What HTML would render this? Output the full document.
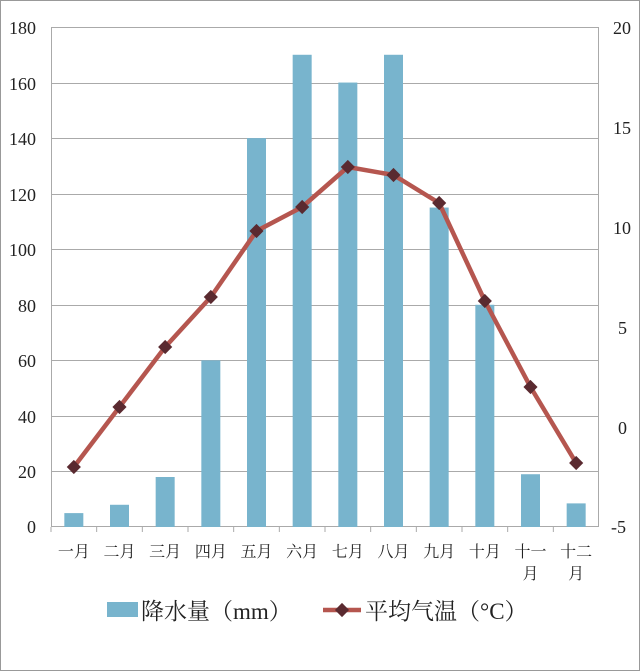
<!DOCTYPE html>
<html><head><meta charset="utf-8"><style>
html,body{margin:0;padding:0;background:#fff}
svg{display:block}
text{font-family:"Liberation Serif","Noto Serif CJK SC",serif;fill:#222}
</style></head><body>
<svg width="640" height="671" viewBox="0 0 640 671">
<rect x="0.5" y="0.5" width="639" height="670" fill="#fff" stroke="#999"/>
<g stroke="#aaa" stroke-width="1">
<line x1="51" y1="27.5" x2="599" y2="27.5"/>
<line x1="51" y1="83.5" x2="599" y2="83.5"/>
<line x1="51" y1="138.5" x2="599" y2="138.5"/>
<line x1="51" y1="194.5" x2="599" y2="194.5"/>
<line x1="51" y1="249.5" x2="599" y2="249.5"/>
<line x1="51" y1="305.5" x2="599" y2="305.5"/>
<line x1="51" y1="360.5" x2="599" y2="360.5"/>
<line x1="51" y1="416.5" x2="599" y2="416.5"/>
<line x1="51" y1="471.5" x2="599" y2="471.5"/>
<line x1="51" y1="526.5" x2="599" y2="526.5"/>
<line x1="51.5" y1="27" x2="51.5" y2="527"/>
<line x1="598.5" y1="27" x2="598.5" y2="527"/>
</g>
<g fill="#78b4cd" id="bars"></g>
<g id="lbl"></g>
<polyline id="ln" fill="none" stroke="#b5564f" stroke-width="4.5" stroke-linejoin="round"/>
<g id="pts" fill="#5a2a30"></g>
<g font-size="18" text-anchor="end">
<text x="36" y="34">180</text><text x="36" y="90">160</text><text x="36" y="145">140</text>
<text x="36" y="201">120</text><text x="36" y="256">100</text><text x="36" y="312">80</text>
<text x="36" y="367">60</text><text x="36" y="423">40</text><text x="36" y="478">20</text><text x="36" y="533">0</text>
</g>
<g font-size="18">
<text x="613" y="34">20</text><text x="613" y="134">15</text><text x="613" y="234">10</text>
<text x="618" y="334">5</text><text x="618" y="434">0</text><text x="611" y="533">-5</text>
</g>
<rect x="107" y="602" width="31" height="15" fill="#78b4cd"/>
<text x="141" y="619" font-size="23">降水量（mm）</text>
<line x1="323" y1="610" x2="361" y2="610" stroke="#b5564f" stroke-width="4.5"/>
<rect x="337" y="605" width="10" height="10" fill="#5a2a30" transform="rotate(45 342 610)"/>
<text x="365" y="619" font-size="23">平均气温（°C）</text>
</svg>
<script>
var p=[5,8,18,60,140,170,160,170,115,80,19,8.5];
var t=[-2,1,4,6.5,9.8,11,13,12.6,11.2,6.3,2,-1.8];
var n=["一月","二月","三月","四月","五月","六月","七月","八月","九月","十月","十一","十二"];
var w=548/12,b="",l="",pts=[],d="";
for(var i=0;i<12;i++){var c=51+w*(i+0.5);var h=p[i]*500/180;
b+='<rect x="'+(c-9.5)+'" y="'+(527-h)+'" width="19" height="'+h+'"/>';
l+='<line x1="'+(51+w*i)+'" y1="527" x2="'+(51+w*i)+'" y2="532" stroke="#aaa"/>';
l+='<text x="'+c+'" y="557" font-size="16" text-anchor="middle">'+n[i]+'</text>';
if(i>=10)l+='<text x="'+c+'" y="579" font-size="16" text-anchor="middle">月</text>';
var y=527-(t[i]+5)*20;pts.push(c+","+y);
d+='<rect x="'+(c-5)+'" y="'+(y-5)+'" width="10" height="10" transform="rotate(45 '+c+' '+y+')"/>';}
document.getElementById("bars").innerHTML=b;
document.getElementById("lbl").innerHTML=l;
document.getElementById("ln").setAttribute("points",pts.join(" "));
document.getElementById("pts").innerHTML=d;
</script>
</body></html>
